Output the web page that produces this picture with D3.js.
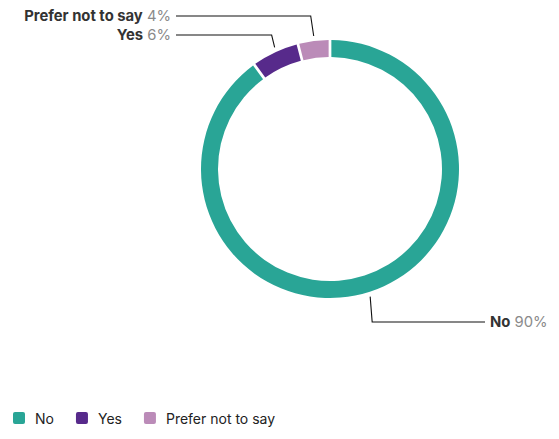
<!DOCTYPE html>
<html>
<head>
<meta charset="utf-8">
<script src="https://cdn.jsdelivr.net/npm/d3@7"></script>
<style>
  html, body { margin: 0; padding: 0; background: #fff; }
  svg { display: block; font-family: Inter, "Liberation Sans", Arial, sans-serif; }
</style>
</head>
<body>
<svg id="chart" width="559" height="439"></svg>
<script>
// Survey answers and their shares (%)
const categories = ["No", "Yes", "Prefer not to say"];
const values = [90, 6, 4];
const colors = ["#29a596", "#572a8b", "#bb8bb8"];

const svg = d3.select("#chart");
const cx = 330, cy = 169;
const outerR = 129, innerR = 112;

const pie = d3.pie().sort(null).value(d => d.value);
const arcs = pie(categories.map((c, i) => ({ name: c, value: values[i], color: colors[i] })));

const arc = d3.arc().innerRadius(innerR).outerRadius(outerR).padAngle(0.016);

const g = svg.append("g").attr("transform", `translate(${cx},${cy})`);

g.selectAll("path.slice")
  .data(arcs)
  .join("path")
  .attr("class", "slice")
  .attr("d", arc)
  .attr("fill", d => d.data.color);

// Leader lines: short spoke from the ring, vertical jog, then a horizontal run to the label
const labelLayout = {
  "No": { y: 153, x: 155, side: 1 },
  "Yes": { y: -134, x: -154, side: -1 },
  "Prefer not to say": { y: -153, x: -154, side: -1 }
};

const labels = g.append("g");
arcs.forEach(d => {
  const mid = (d.startAngle + d.endAngle) / 2;
  const sx = Math.sin(mid) * (outerR + 1);
  const sy = -Math.cos(mid) * (outerR + 1);
  const L = labelLayout[d.data.name];
  const kx = sx + (L.side > 0 ? 2 : -3) * Math.sign(sy) * (L.side > 0 ? 1 : -1);
  labels.append("polyline")
    .attr("points", [[sx, sy + Math.sign(sy) * 4], [kx, L.y], [L.x, L.y]].map(p => p.join(",")).join(" "))
    .attr("fill", "none")
    .attr("stroke", "#111")
    .attr("stroke-width", 1.1);

  const t = labels.append("text")
    .attr("x", L.x + L.side * 5)
    .attr("y", L.y)
    .attr("dy", "0.35em")
    .attr("text-anchor", L.side > 0 ? "start" : "end")
    .style("font-size", "14.8px");
  t.append("tspan").attr("font-weight", 700).attr("fill", "#333").text(d.data.name);
  t.append("tspan").attr("fill", "#8a8a8a").text(" " + d.data.value + "%");
});

// Legend
const legend = svg.append("g").attr("transform", "translate(13,412)");
let lx = 0;
categories.forEach((c, i) => {
  const item = legend.append("g").attr("transform", `translate(${lx},0)`);
  item.append("rect").attr("width", 12).attr("height", 12).attr("rx", 2).attr("fill", colors[i]);
  const txt = item.append("text").attr("x", 22).attr("y", 7.5).attr("dy", "0.35em")
    .style("font-size", "14px").attr("fill", "#222").text(c);
  lx += 22 + txt.node().getComputedTextLength() + 22;
});
</script>
</body>
</html>
